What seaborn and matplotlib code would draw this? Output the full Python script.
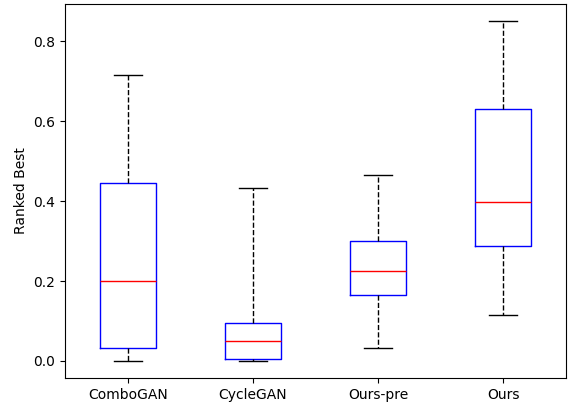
import matplotlib
matplotlib.use('Agg')
import matplotlib.pyplot as plt
import seaborn as sns
import pandas as pd

# Five-number summaries: min, Q1, median, Q3, max
methods = ["ComboGAN", "CycleGAN", "Ours-pre", "Ours"]
combogan = [0.0, 0.033, 0.200, 0.445, 0.717]
cyclegan = [0.0, 0.004, 0.049, 0.094, 0.433]
ours_pre = [0.032, 0.166, 0.224, 0.300, 0.466]
ours = [0.116, 0.287, 0.399, 0.630, 0.851]

rows = []
for name, vals in zip(methods, [combogan, cyclegan, ours_pre, ours]):
    for v in vals:
        rows.append((name, v))
df = pd.DataFrame(rows, columns=["metodo", "valor"])

fig, ax = plt.subplots(figsize=(5.71, 4.05), dpi=100)
fig.subplots_adjust(left=0.114, right=0.991, bottom=0.067, top=0.99)

sns.boxplot(
    data=df, x="metodo", y="valor", order=methods,
    width=0.45, whis=(0, 100), fill=False, color="blue", linewidth=1,
    medianprops={"color": "red"},
    whiskerprops={"color": "black", "linestyle": "--"},
    capprops={"color": "black"},
    showfliers=False, ax=ax,
)

ax.set_xlabel("")
ax.set_ylabel("Ranked Best")
ax.set_yticks([0.0, 0.2, 0.4, 0.6, 0.8])

plt.savefig("out.png")
